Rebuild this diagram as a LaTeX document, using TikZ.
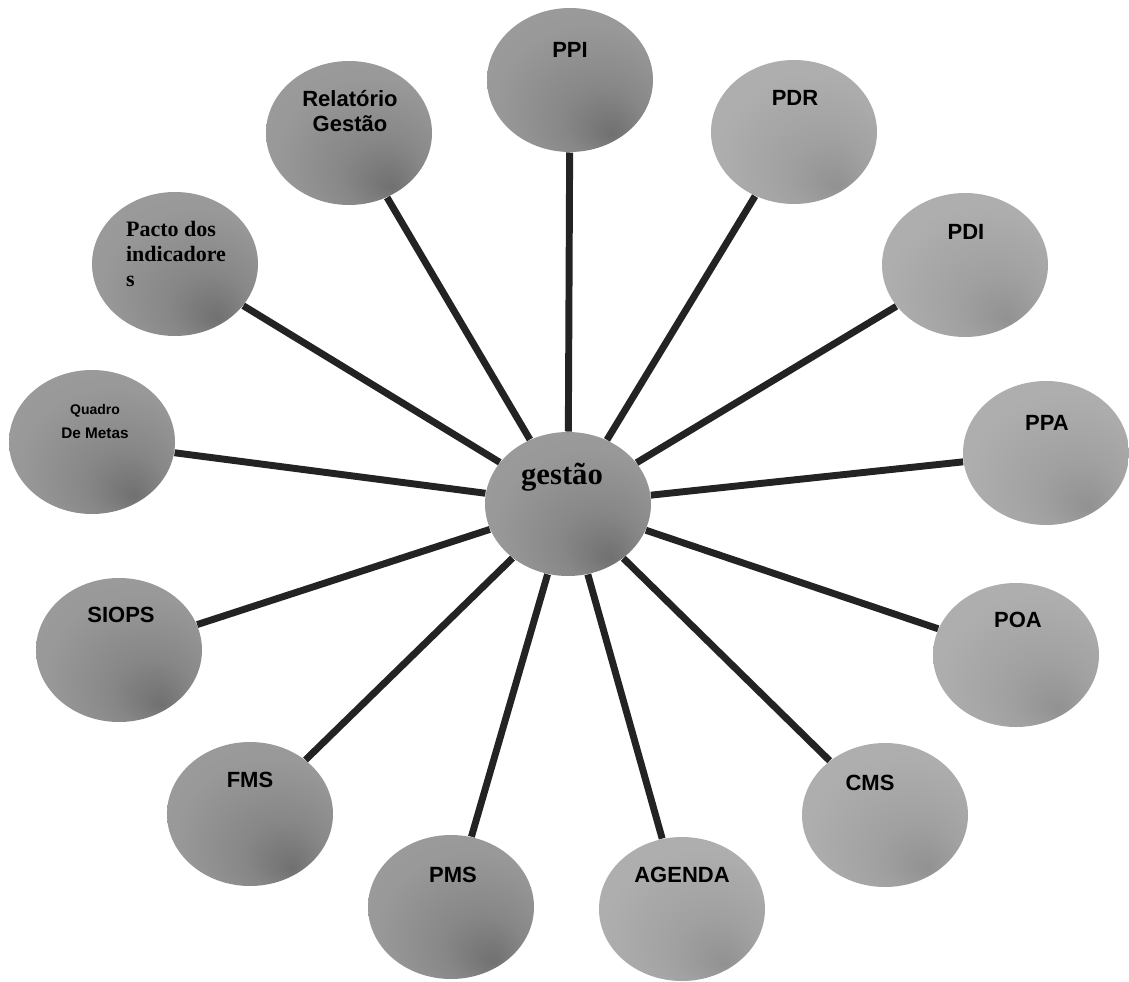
\documentclass[tikz,border=0pt]{standalone}
\usepackage{fontspec}
\setmainfont{Liberation Serif}
\setsansfont{Liberation Sans}
\usepackage{tikz}
\usetikzlibrary{shapes.geometric}
\definecolor{linkgray}{RGB}{35, 35, 35}
\pgfdeclareradialshading{bubbledark}{\pgfpoint{13bp}{-19bp}}{rgb(0bp)=(0.44,0.44,0.44); rgb(12bp)=(0.53,0.53,0.53); rgb(28bp)=(0.60,0.60,0.60); rgb(50bp)=(0.62,0.62,0.62)}
\pgfdeclareradialshading{bubblelight}{\pgfpoint{13bp}{-19bp}}{rgb(0bp)=(0.57,0.57,0.57); rgb(12bp)=(0.63,0.63,0.63); rgb(28bp)=(0.68,0.68,0.68); rgb(50bp)=(0.70,0.70,0.70)}
\tikzset{every picture/.style={line width=0.75pt}}

\begin{document}
\begin{tikzpicture}[x=0.75pt,y=0.75pt,yscale=-1,xscale=1,
  bubble/.style={ellipse, minimum width=124.5pt, minimum height=108pt, inner sep=0pt, shade, shading=bubbledark},
  bubblelt/.style={bubble, shading=bubblelight},
  link/.style={draw=linkgray, line width=5.2pt},
  lbl/.style={inner sep=0.75pt, align=center, font=\sffamily\bfseries\fontsize{16.5}{19}\selectfont}]
\useasboundingbox (0,0) rectangle (1129,982);

%Shape: Ellipse (centre)
\node [bubble] (gestao) at (568,504) {};
%Shape: Ellipse (top, clockwise)
\node [bubble] (ppi) at (570,80) {};
\node [bubblelt] (pdr) at (794,132) {};
\node [bubblelt] (pdi) at (965,265) {};
\node [bubblelt] (ppa) at (1046,453) {};
\node [bubblelt] (poa) at (1016,655) {};
\node [bubblelt] (cms) at (885,815) {};
\node [bubblelt] (agenda) at (682,909) {};
\node [bubble] (pms) at (451,907) {};
\node [bubble] (fms) at (250,814) {};
\node [bubble] (siops) at (119,650) {};
\node [bubble] (quadro) at (92,442) {};
\node [bubble] (pacto) at (175,264) {};
\node [bubble] (relatorio) at (349,133) {};

%Straight Lines
\foreach \n in {ppi,pdr,pdi,ppa,poa,cms,agenda,pms,fms,siops,quadro,pacto,relatorio}
  \draw [link] (gestao) -- (\n) ;

% Text Node
\node [lbl, font=\rmfamily\bfseries\fontsize{23}{26}\selectfont] (gestao-t) at (562,477) {gestão};
% Text Node
\node [lbl] (ppi-t) at (570,50) {PPI};
% Text Node
\node [lbl] (pdr-t) at (795,98) {PDR};
% Text Node
\node [lbl] (pdi-t) at (966,232) {PDI};
% Text Node
\node [lbl] (ppa-t) at (1047,423) {PPA};
% Text Node
\node [lbl] (poa-t) at (1018,620) {POA};
% Text Node
\node [lbl] (cms-t) at (870,783) {CMS};
% Text Node
\node [lbl] (agenda-t) at (682,875) {AGENDA};
% Text Node
\node [lbl] (pms-t) at (453,875) {PMS};
% Text Node
\node [lbl] (fms-t) at (250,780) {FMS};
% Text Node
\node [lbl] (siops-t) at (121,615) {SIOPS};
% Text Node
\node [lbl] (quadro-t) at (95,421) {{\fontsize{10.5}{12}\selectfont Quadro}\\[-1pt]{\fontsize{11.5}{13}\selectfont De Metas}};
% Text Node
\node [lbl, align=left, font=\rmfamily\bfseries\fontsize{16.5}{19}\selectfont] (pacto-t) at (176,254) {Pacto dos\\indicadore\\s};
% Text Node
\node [lbl] (relatorio-t) at (350,111) {Relatório\\Gestão};

\end{tikzpicture}
\end{document}
